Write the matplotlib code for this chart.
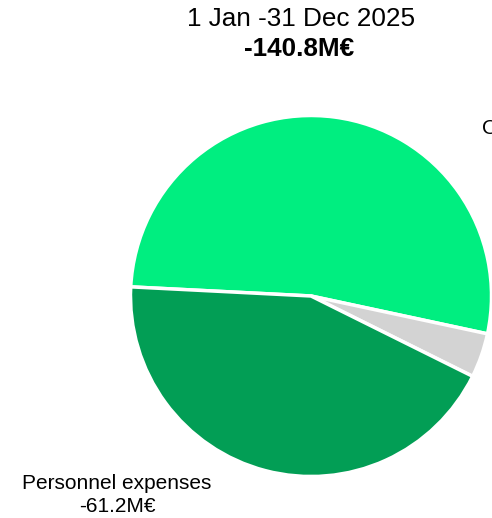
import matplotlib
matplotlib.use("Agg")
import matplotlib.pyplot as plt

plt.rcParams['font.family'] = ['Liberation Sans', 'DejaVu Sans']

period = "1 Jan -31 Dec 2025"
categories = ["Other expenses", "Depreciation", "Personnel expenses"]
values = [-74.0, -5.6, -61.2]
colors = ["#00EE80", "#D3D3D3", "#029E55"]

total = sum(values)

W, H = 492, 518
fig = plt.figure(figsize=(W / 100, H / 100), dpi=100)
ax = fig.add_axes([0, 0, 1, 1])
ax.set_xlim(0, W)
ax.set_ylim(0, H)
ax.set_aspect('equal')
ax.axis('off')

ax.pie([abs(v) for v in values], colors=colors, startangle=177.1,
       counterclock=False, center=(311, H - 296), radius=180.5,
       wedgeprops=dict(edgecolor='white', linewidth=2.5))
ax.set_xlim(0, W)
ax.set_ylim(0, H)

ax.text(301, H - 19, period, ha='center', va='center', fontsize=18.8, color='black')
ax.text(299, H - 49, f"{total:.1f}M€", ha='center', va='center', fontsize=18.8,
        fontweight='bold', color='black')

ax.text(117, H - 495, f"{categories[2]}\n{values[2]:.1f}M€", ha='center', va='center',
        fontsize=15, color='black', linespacing=1.3)
ax.text(482, H - 140, f"{categories[0]}\n{values[0]:.1f}M€", ha='left', va='center',
        multialignment='center', fontsize=15, color='black', linespacing=1.3)

fig.savefig("out.png", dpi=100)
